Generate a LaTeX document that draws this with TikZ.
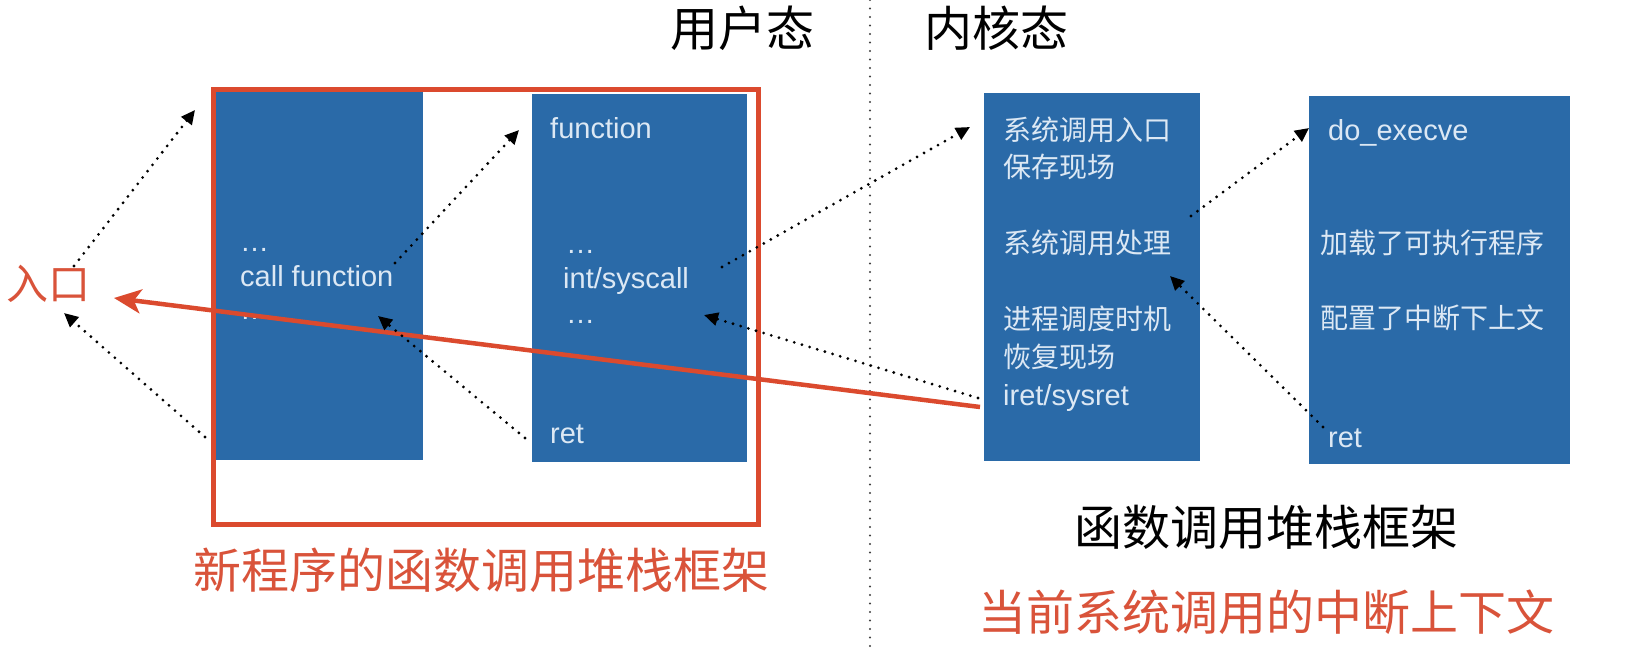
\documentclass[tikz,border=0pt]{standalone}
\usepackage{fontspec}
\setmainfont{Liberation Sans}
\newfontfamily\cjk{Noto Sans CJK SC}
\usetikzlibrary{arrows.meta}
\definecolor{boxblue}{HTML}{2A6AA8}
\definecolor{framered}{HTML}{DB4A2E}
\definecolor{labred}{HTML}{D9533A}
\definecolor{boxtxt}{HTML}{DCE8F4}
\begin{document}
\begin{tikzpicture}[x=1pt,y=-1pt,
  stackbox/.style={fill=boxblue, draw=none, inner sep=0pt, anchor=north west, minimum height=368pt},
  boxlatin/.style={text=boxtxt, anchor=base west, inner sep=0pt, font=\fontsize{29}{34}\selectfont},
  boxcjk/.style={text=boxtxt, anchor=base west, inner sep=0pt, font=\cjk\fontsize{28}{34}\selectfont},
  biglab/.style={inner sep=0pt, anchor=base, font=\cjk\fontsize{48}{56}\selectfont},
  dotarrow/.style={line width=3.1pt, dash pattern=on 0pt off 8pt, line cap=round, -{Triangle[length=14pt,width=13pt]}},
  redarrow/.style={framered, line width=4.5pt, -{Stealth[length=27pt,width=24pt,inset=7pt]}},
]
\useasboundingbox (0,0) rectangle (1627,651);
\fill[white] (0,0) rectangle (1627,651);

% divider
\coordinate (divtop) at (870,0);
\coordinate (divbot) at (870,651);
\draw[gray!50!black, line width=2.3pt, dash pattern=on 0pt off 8.5pt, line cap=round] (divtop) -- (divbot);

% boxes
\node[stackbox, minimum width=208pt] (b1) at (215,92) {};
\node[stackbox, minimum width=215pt] (b2) at (532,94) {};
\node[stackbox, minimum width=216pt] (b3) at (984,93) {};
\node[stackbox, minimum width=261pt] (b4) at (1309,96) {};

% red frame
\node[draw=framered, line width=5pt, minimum width=545pt, minimum height=435pt, anchor=north west, inner sep=0pt] (frame) at (211,87) {};

% headers
\node[biglab] (user) at (742,46) {用户态};
\node[biglab] (kern) at (996,46) {内核态};
\node[biglab, text=labred] (newlab) at (481,588) {新程序的函数调用堆栈框架};
\node[biglab] (framelab) at (1266,545) {函数调用堆栈框架};
\node[biglab, text=labred] (curlab) at (1266,630) {当前系统调用的中断上下文};
\node[inner sep=0pt, anchor=base, text=labred, font=\cjk\fontsize{42}{50}\selectfont] (entry) at (48,299) {入口};

% box 1
\node[boxlatin] (b1d1) at (240,251) {…};
\node[boxlatin] (b1cf) at (240,286) {call function};
\node[boxlatin] (b1d2) at (240,319) {…};

% box 2
\node[boxlatin] (b2fn) at (550,138) {function};
\node[boxlatin] (b2d1) at (566,253) {…};
\node[boxlatin] (b2sc) at (563,288) {int/syscall};
\node[boxlatin] (b2d2) at (566,323) {…};
\node[boxlatin] (b2ret) at (550,443) {ret};

% box 3
\node[boxcjk] (b3a) at (1003,140) {系统调用入口};
\node[boxcjk] (b3b) at (1003,177) {保存现场};
\node[boxcjk] (b3c) at (1003,253) {系统调用处理};
\node[boxcjk] (b3d) at (1003,329) {进程调度时机};
\node[boxcjk] (b3e) at (1003,367) {恢复现场};
\node[boxlatin] (b3f) at (1003,405) {iret/sysret};

% box 4
\node[boxlatin] (b4a) at (1328,140) {do\_execve};
\node[boxcjk] (b4b) at (1320,253) {加载了可执行程序};
\node[boxcjk] (b4c) at (1320,328) {配置了中断下上文};
\node[boxlatin] (b4d) at (1328,447) {ret};

% red arrow
\coordinate (rs) at (980,407);
\coordinate (rt) at (114,298);
\draw[redarrow] (rs) -- (rt);

% dotted arrows
\coordinate (a1s) at (74,266);   \coordinate (a1t) at (195,110);
\coordinate (a2s) at (205,437);  \coordinate (a2t) at (64,313);
\coordinate (a3s) at (395,263);  \coordinate (a3t) at (519,130);
\coordinate (a4s) at (525,438);  \coordinate (a4t) at (378,316);
\coordinate (a5s) at (722,267);  \coordinate (a5t) at (970,127);
\coordinate (a6s) at (978,398);  \coordinate (a6t) at (704,315);
\coordinate (a7s) at (1191,216); \coordinate (a7t) at (1309,128);
\coordinate (a8s) at (1323,427); \coordinate (a8t) at (1170,276);
\foreach \i in {1,...,8} {\draw[dotarrow] (a\i s) -- (a\i t);}
\end{tikzpicture}
\end{document}
